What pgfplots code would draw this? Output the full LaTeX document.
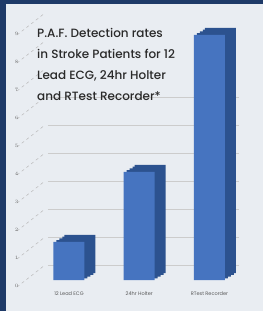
\documentclass[border=0pt]{standalone}
\usepackage{fontspec}
\setmainfont{Poppins}
\newfontfamily\titlefont{Poppins Medium}
\usepackage{pgfplots}
\pgfplotsset{compat=1.18}
\definecolor{bgc}{HTML}{E9EDF2}
\definecolor{frame}{HTML}{1E3A68}
\definecolor{barfront}{HTML}{4674C0}
\definecolor{barside}{HTML}{2C528F}
\definecolor{titlec}{HTML}{2A2A2A}
\begin{document}
\begin{tikzpicture}
\fill[bgc] (0pt,0pt) rectangle (263pt,311pt);
\fill[frame] (0pt,0pt) rectangle (6pt,311pt);
\fill[frame] (0pt,307pt) rectangle (263pt,311pt);
\foreach \k in {0,...,9} {
  \draw[gray!55, dashed, line width=0.5pt] (17pt,{24pt+28pt*\k}) -- (45pt,{46pt+28pt*\k});
}
\begin{axis}[
  at={(69pt,31pt)}, anchor=origin,
  scale only axis, width=191pt, height=252pt,
  xmin=-0.30, xmax=2.42, ymin=0, ymax=9,
  axis line style={draw=none},
  ybar, bar width=31pt, bar shift=0pt,
  xtick=data,
  xticklabels={12 Lead ECG, 24hr Holter, RTest Recorder},
  xticklabel style={font=\fontsize{5}{5}\selectfont, text=gray!70!black, yshift=-8pt},
  ytick={0,1,...,6},
  yticklabel style={font=\fontsize{3}{3}\selectfont, text=gray!80!black, xshift=-26pt, yshift=-6pt},
  major tick length=0pt,
  ymajorgrids, major grid style={draw=gray!40, line width=0.6pt, yshift=15pt},
  extra y ticks={7,8,9},
  extra y tick style={grid=none},
  clip=false,
]
\addplot[fill=barside, draw=none, xshift=3pt, yshift=1.75pt] coordinates {(0,1.36) (1,3.86) (2,8.75)};
\addplot[fill=barside, draw=none, xshift=6pt, yshift=3.5pt] coordinates {(0,1.36) (1,3.86) (2,8.75)};
\addplot[fill=barside, draw=none, xshift=9pt, yshift=5.25pt] coordinates {(0,1.36) (1,3.86) (2,8.75)};
\addplot[fill=barside, draw=none, xshift=11pt, yshift=7pt] coordinates {(0,1.36) (1,3.86) (2,8.75)};
\addplot[fill=barfront, draw=none] coordinates {(0,1.36) (1,3.86) (2,8.75)};
\end{axis}
\node[anchor=north west, align=left, text=titlec, inner sep=0pt,
  font=\titlefont\fontsize{12}{21}\selectfont] at (37pt,283pt)
  {P.A.F. Detection rates\\in Stroke Patients for 12\\Lead ECG, 24hr Holter\\and RTest Recorder*};
\pgfresetboundingbox
\useasboundingbox (0pt,0pt) rectangle (263pt,311pt);
\end{tikzpicture}
\end{document}
